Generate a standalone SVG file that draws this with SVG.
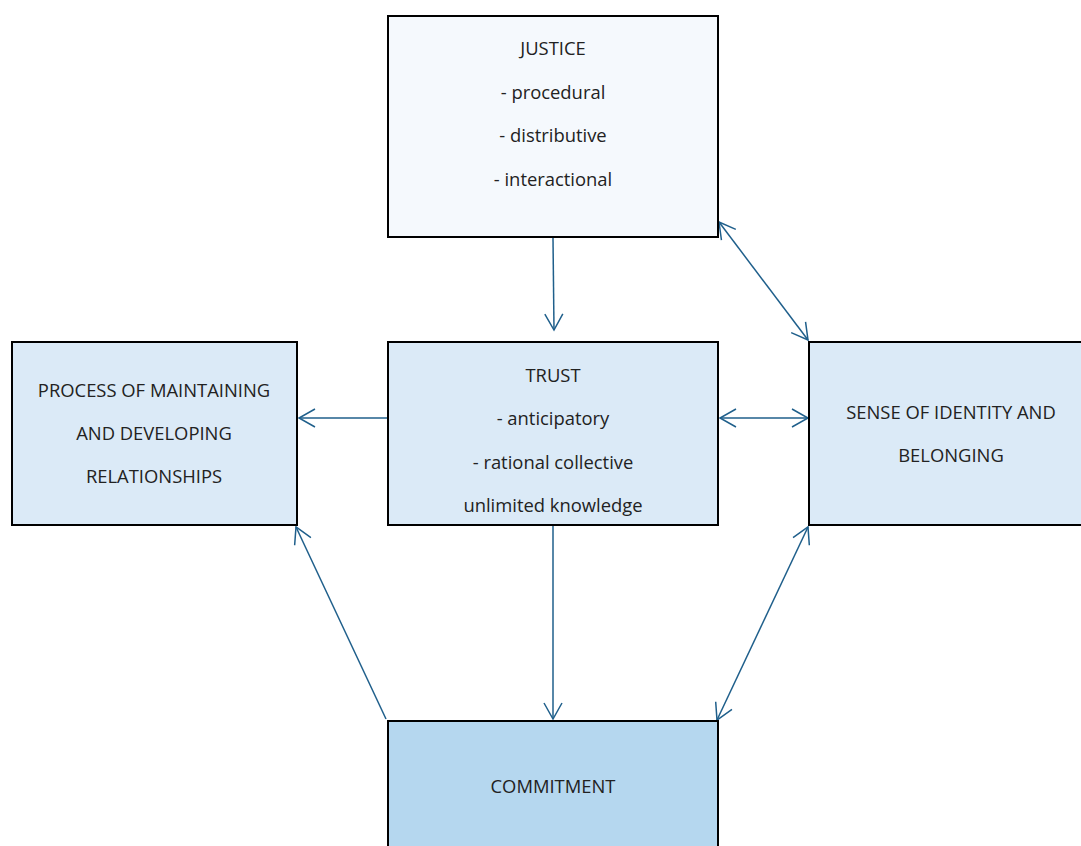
<svg xmlns="http://www.w3.org/2000/svg" width="1081" height="846" viewBox="0 0 1081 846">
<style>
.box{stroke:#000;stroke-width:2}
.t{font-family:"Open Sans","Liberation Sans",sans-serif;font-size:18.4px;fill:#222;text-anchor:middle}
.c{stroke:#1f5f8b;stroke-width:1.5;fill:none}
</style>
<defs>
<marker id="ah" viewBox="-20 -10 22 20" refX="0" refY="0" markerWidth="22" markerHeight="20" markerUnits="userSpaceOnUse" orient="auto-start-reverse">
<path d="M-16,-9 L0,0 L-16,9" fill="none" stroke="#1f5f8b" stroke-width="1.5"/>
</marker>
</defs>
<rect width="1081" height="846" fill="#fff"/>
<g id="connectors">
<line class="c" x1="553" y1="238" x2="554" y2="330" marker-end="url(#ah)"/>
<line class="c" x1="719" y1="222" x2="808" y2="340" marker-start="url(#ah)" marker-end="url(#ah)"/>
<line class="c" x1="388" y1="418" x2="299" y2="418" marker-end="url(#ah)"/>
<line class="c" x1="720" y1="418" x2="808" y2="418" marker-start="url(#ah)" marker-end="url(#ah)"/>
<line class="c" x1="553" y1="526" x2="553" y2="719" marker-end="url(#ah)"/>
<line class="c" x1="386" y1="719" x2="296" y2="527" marker-end="url(#ah)"/>
<line class="c" x1="717" y1="720" x2="808" y2="527" marker-start="url(#ah)" marker-end="url(#ah)"/>
</g>
<g id="justice">
<rect class="box" x="388" y="16" width="330" height="221" fill="#f5f9fd"/>
<text class="t" x="553" y="55">JUSTICE</text>
<text class="t" x="553" y="99">- procedural</text>
<text class="t" x="553" y="142">- distributive</text>
<text class="t" x="553" y="186">- interactional</text>
</g>
<g id="trust">
<rect class="box" x="388" y="342" width="330" height="183" fill="#dbeaf7"/>
<text class="t" x="553" y="382">TRUST</text>
<text class="t" x="553" y="425">- anticipatory</text>
<text class="t" x="553" y="469">- rational collective</text>
<text class="t" x="553" y="512">unlimited knowledge</text>
</g>
<g id="process">
<rect class="box" x="12" y="342" width="285" height="183" fill="#dbeaf7"/>
<text class="t" x="154" y="397">PROCESS OF MAINTAINING</text>
<text class="t" x="154" y="440">AND DEVELOPING</text>
<text class="t" x="154" y="483">RELATIONSHIPS</text>
</g>
<g id="sense">
<rect class="box" x="809" y="342" width="280" height="183" fill="#dbeaf7"/>
<text class="t" x="951" y="419">SENSE OF IDENTITY AND</text>
<text class="t" x="951" y="462">BELONGING</text>
</g>
<g id="commitment">
<rect class="box" x="388" y="721" width="330" height="135" fill="#b5d7ef"/>
<text class="t" x="553" y="793">COMMITMENT</text>
</g>
</svg>
